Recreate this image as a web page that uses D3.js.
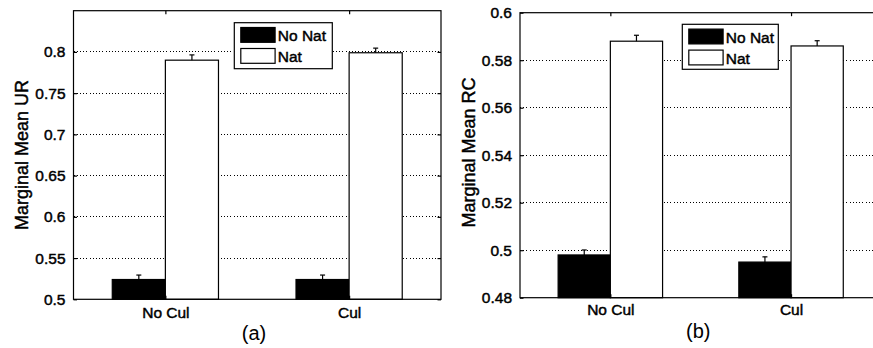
<!DOCTYPE html>
<html>
<head>
<meta charset="utf-8">
<script src="https://cdn.jsdelivr.net/npm/d3@7"></script>
<style>
  html, body { margin: 0; padding: 0; background: #fff; }
  svg { display: block; }
  text { font-family: "Liberation Sans", Arial, Helvetica, sans-serif; fill: #000; }
  text.heavy { stroke: #000; stroke-width: 0.45px; }
</style>
</head>
<body>
<svg id="chart" width="873" height="348"></svg>
<script>
// ---- data ----
const categories = ["No Cul", "Cul"];
const seriesNames = ["No Nat", "Nat"];
const seriesColors = ["#000000", "#ffffff"];

const urNoNat = [0.524, 0.524];
const urNat = [0.790, 0.799];
const urNoNatErr = [0.0054, 0.0054];
const urNatErr = [0.0064, 0.0056];
const urTicks = [0.5, 0.55, 0.6, 0.65, 0.7, 0.75, 0.8];
const urTickLabels = ["0.5", "0.55", "0.6", "0.65", "0.7", "0.75", "0.8"];

const rcNoNat = [0.498, 0.495];
const rcNat = [0.588, 0.586];
const rcNoNatErr = [0.0021, 0.0022];
const rcNatErr = [0.0025, 0.0022];
const rcTicks = [0.48, 0.5, 0.52, 0.54, 0.56, 0.58, 0.6];
const rcTickLabels = ["0.48", "0.5", "0.52", "0.54", "0.56", "0.58", "0.6"];

const svg = d3.select("#chart");

function drawPanel(opt) {
  const g = svg.append("g");
  const x = d3.scaleLinear().domain([0.5, 2.5]).range([opt.left, opt.right]);
  const y = d3.scaleLinear().domain(opt.yDomain).range([opt.bottom, opt.top]);
  const barW = 0.289;
  const sub = d3.scaleBand().domain(seriesNames).range([-barW, barW]).padding(0);

  // gridlines
  g.append("g").selectAll("line").data(opt.ticks.filter(t => t > opt.yDomain[0] && t < opt.yDomain[1]))
    .join("line")
    .attr("x1", opt.left).attr("x2", opt.right)
    .attr("y1", d => y(d)).attr("y2", d => y(d))
    .attr("stroke", "#000").attr("stroke-width", 1)
    .attr("stroke-dasharray", "1,2.2")
    .attr("shape-rendering", "crispEdges");

  const rows = [];
  categories.forEach((c, i) => {
    rows.push({ cat: c, ci: i, s: seriesNames[0], si: 0, v: opt.series[0][i], e: opt.errs[0][i] });
    rows.push({ cat: c, ci: i, s: seriesNames[1], si: 1, v: opt.series[1][i], e: opt.errs[1][i] });
  });

  // error bars (drawn before bars so the lower half is covered)
  const eg = g.append("g");
  rows.forEach(r => {
    const cxb = (x(r.ci + 1 + sub(r.s)) + x(r.ci + 1 + sub(r.s) + sub.bandwidth())) / 2;
    eg.append("line").attr("x1", cxb).attr("x2", cxb)
      .attr("y1", y(r.v - r.e)).attr("y2", y(r.v + r.e))
      .attr("stroke", "#000").attr("stroke-width", 1.2);
    eg.append("line").attr("x1", cxb - 2.5).attr("x2", cxb + 2.5)
      .attr("y1", y(r.v + r.e)).attr("y2", y(r.v + r.e))
      .attr("stroke", "#000").attr("stroke-width", 1.2);
  });

  // bars
  g.append("g").selectAll("rect").data(rows).join("rect")
    .attr("x", d => x(d.ci + 1 + sub(d.s)))
    .attr("width", d => x(d.ci + 1 + sub(d.s) + sub.bandwidth()) - x(d.ci + 1 + sub(d.s)))
    .attr("y", d => y(d.v))
    .attr("height", d => y(opt.yDomain[0]) - y(d.v))
    .attr("fill", d => seriesColors[d.si])
    .attr("stroke", "#000").attr("stroke-width", 1.2);

  // box
  g.append("rect")
    .attr("x", opt.left).attr("y", opt.top)
    .attr("width", opt.right - opt.left).attr("height", opt.bottom - opt.top)
    .attr("fill", "none").attr("stroke", "#000").attr("stroke-width", 1.2);

  // left axis
  const yAxis = d3.axisLeft(y).tickValues(opt.ticks)
    .tickFormat((d, i) => opt.tickLabels[i]).tickSizeInner(-3.5).tickSizeOuter(0).tickPadding(8);
  const ya = g.append("g").attr("transform", `translate(${opt.left},0)`).call(yAxis);
  ya.select(".domain").remove();
  ya.selectAll("line").attr("stroke", "#000").attr("stroke-width", 1.2);
  ya.selectAll("text").attr("class", "heavy").attr("font-size", 15.5)
    .attr("font-family", '"Liberation Sans", Arial, sans-serif');

  // right axis ticks
  const yAxisR = d3.axisRight(y).tickValues(opt.ticks).tickFormat("").tickSizeInner(-3.5).tickSizeOuter(0);
  const yr = g.append("g").attr("transform", `translate(${opt.right},0)`).call(yAxisR);
  yr.select(".domain").remove();
  yr.selectAll("line").attr("stroke", "#000").attr("stroke-width", 1.2);

  // bottom axis
  const xAxis = d3.axisBottom(x).tickValues([1, 2])
    .tickFormat((d, i) => categories[i]).tickSizeInner(-3.5).tickSizeOuter(0).tickPadding(8);
  const xa = g.append("g").attr("transform", `translate(0,${opt.bottom})`).call(xAxis);
  xa.select(".domain").remove();
  xa.selectAll("line").attr("stroke", "#000").attr("stroke-width", 1.2);
  xa.selectAll("text").attr("class", "heavy").attr("font-size", 15.5)
    .attr("font-family", '"Liberation Sans", Arial, sans-serif')
    .attr("dy", null).attr("y", opt.xLabelY - opt.bottom);

  // top ticks
  const xAxisT = d3.axisTop(x).tickValues([1, 2]).tickFormat("").tickSizeInner(-3.5).tickSizeOuter(0);
  const xt = g.append("g").attr("transform", `translate(0,${opt.top})`).call(xAxisT);
  xt.select(".domain").remove();
  xt.selectAll("line").attr("stroke", "#000").attr("stroke-width", 1.2);

  // y label
  g.append("text").attr("class", "heavy")
    .attr("transform", `translate(${opt.yLabelX},${opt.yLabelY}) rotate(-90)`)
    .attr("text-anchor", "middle").attr("font-size", 18)
    .text(opt.yLabel);

  // caption
  g.append("text")
    .attr("x", opt.capX).attr("y", opt.capY)
    .attr("text-anchor", "middle").attr("font-size", 20)
    .attr("font-family", '"Open Sans", "DejaVu Sans", sans-serif')
    .text(opt.caption);

  // legend
  const L = opt.legend;
  const lg = g.append("g");
  lg.append("rect").attr("x", L.x).attr("y", L.y).attr("width", L.w).attr("height", L.h)
    .attr("fill", "#fff").attr("stroke", "#000").attr("stroke-width", 1.2);
  seriesNames.forEach((s, i) => {
    lg.append("rect")
      .attr("x", L.x + 6.5).attr("y", L.y + 4.8 + i * 21)
      .attr("width", 34.3).attr("height", 14.8)
      .attr("fill", seriesColors[i]).attr("stroke", "#000").attr("stroke-width", 1.2);
    lg.append("text").attr("class", "heavy")
      .attr("x", L.x + 43.5).attr("y", L.y + 18.5 + i * 20.8)
      .attr("font-size", 15.5).text(s);
  });
}

drawPanel({
  left: 73.5, right: 441, top: 10.7, bottom: 299.3,
  yDomain: [0.5, 0.85],
  ticks: urTicks, tickLabels: urTickLabels,
  series: [urNoNat, urNat], errs: [urNoNatErr, urNatErr],
  xLabelY: 318, yLabel: "Marginal Mean UR", yLabelX: 28, yLabelY: 155,
  caption: "(a)", capX: 254, capY: 340,
  legend: { x: 234.3, y: 22.7, w: 98, h: 46 }
});

drawPanel({
  left: 520, right: 881.4, top: 12.7, bottom: 297.7,
  yDomain: [0.48, 0.6],
  ticks: rcTicks, tickLabels: rcTickLabels,
  series: [rcNoNat, rcNat], errs: [rcNoNatErr, rcNatErr],
  xLabelY: 315, yLabel: "Marginal Mean RC", yLabelX: 475, yLabelY: 152.5,
  caption: "(b)", capX: 698.3, capY: 338,
  legend: { x: 682.3, y: 24.3, w: 96, h: 45 }
});
</script>
</body>
</html>
